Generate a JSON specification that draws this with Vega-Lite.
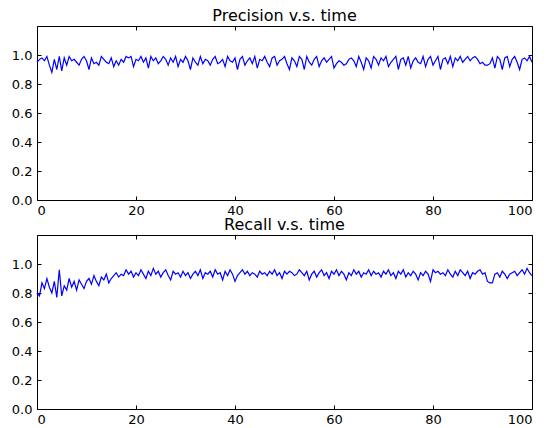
{
"$schema": "https://vega.github.io/schema/vega-lite/v6.json",
"background": "white",
"padding": {"left": 10, "top": 7, "right": 0, "bottom": 0},
"spacing": -2,
"config": {
  "view": {"stroke": "black", "strokeWidth": 1},
  "font": "DejaVu Sans",
  "axis": {"domain": false, "grid": false, "ticks": true, "tickColor": "black", "tickSize": -4, "labelFont": "DejaVu Sans", "labelFontSize": 13, "labelColor": "black", "title": null, "labelPadding": 8},
  "title": {"font": "DejaVu Sans", "fontSize": 16, "fontWeight": "normal", "color": "black", "offset": 2}
},
"datasets": {"d": [
{"t":0,"p":0.95,"r":0.80},{"t":0.5,"p":0.97,"r":0.78},{"t":1,"p":0.98,"r":0.87},{"t":1.5,"p":0.96,"r":0.83},{"t":2,"p":0.99,"r":0.90},{"t":2.5,"p":0.93,"r":0.84},{"t":3,"p":0.88,"r":0.80},{"t":3.5,"p":0.97,"r":0.88},{"t":4,"p":0.90,"r":0.77},{"t":4.5,"p":0.99,"r":0.96},
{"t":5,"p":0.89,"r":0.78},{"t":5.5,"p":0.98,"r":0.85},{"t":6,"p":0.93,"r":0.82},{"t":6.5,"p":0.99,"r":0.90},{"t":7,"p":0.96,"r":0.84},{"t":7.5,"p":0.97,"r":0.88},{"t":8,"p":0.95,"r":0.82},{"t":8.5,"p":0.93,"r":0.89},{"t":9,"p":0.97,"r":0.86},{"t":9.5,"p":0.99,"r":0.83},
{"t":10,"p":0.96,"r":0.88},{"t":10.5,"p":0.90,"r":0.90},{"t":11,"p":0.98,"r":0.86},{"t":11.5,"p":0.94,"r":0.92},{"t":12,"p":0.95,"r":0.88},{"t":12.5,"p":0.93,"r":0.85},{"t":13,"p":0.99,"r":0.91},{"t":13.5,"p":0.97,"r":0.89},{"t":14,"p":0.95,"r":0.93},{"t":14.5,"p":0.94,"r":0.87},
{"t":15,"p":0.98,"r":0.90},{"t":15.5,"p":0.92,"r":0.92},{"t":16,"p":0.96,"r":0.94},{"t":16.5,"p":0.93,"r":0.91},{"t":17,"p":0.97,"r":0.93},{"t":17.5,"p":0.95,"r":0.92},{"t":18,"p":0.99,"r":0.96},{"t":18.5,"p":0.98,"r":0.93},{"t":19,"p":0.99,"r":0.95},{"t":19.5,"p":0.92,"r":0.91},
{"t":20,"p":0.97,"r":0.94},{"t":20.5,"p":0.96,"r":0.92},{"t":21,"p":0.99,"r":0.96},{"t":21.5,"p":0.95,"r":0.93},{"t":22,"p":0.98,"r":0.90},{"t":22.5,"p":0.91,"r":0.95},{"t":23,"p":0.99,"r":0.92},{"t":23.5,"p":0.96,"r":0.97},{"t":24,"p":0.98,"r":0.93},{"t":24.5,"p":0.94,"r":0.95},
{"t":25,"p":0.96,"r":0.91},{"t":25.5,"p":0.99,"r":0.94},{"t":26,"p":0.97,"r":0.96},{"t":26.5,"p":0.93,"r":0.92},{"t":27,"p":0.98,"r":0.89},{"t":27.5,"p":0.95,"r":0.95},{"t":28,"p":0.99,"r":0.93},{"t":28.5,"p":0.92,"r":0.94},{"t":29,"p":0.97,"r":0.91},{"t":29.5,"p":0.95,"r":0.95},
{"t":30,"p":0.99,"r":0.92},{"t":30.5,"p":0.96,"r":0.94},{"t":31,"p":0.90,"r":0.90},{"t":31.5,"p":0.98,"r":0.93},{"t":32,"p":0.95,"r":0.95},{"t":32.5,"p":0.93,"r":0.92},{"t":33,"p":0.99,"r":0.96},{"t":33.5,"p":0.94,"r":0.90},{"t":34,"p":0.97,"r":0.94},{"t":34.5,"p":0.96,"r":0.93},
{"t":35,"p":0.93,"r":0.95},{"t":35.5,"p":0.97,"r":0.91},{"t":36,"p":0.99,"r":0.96},{"t":36.5,"p":0.94,"r":0.93},{"t":37,"p":0.95,"r":0.94},{"t":37.5,"p":0.97,"r":0.89},{"t":38,"p":0.92,"r":0.95},{"t":38.5,"p":0.99,"r":0.92},{"t":39,"p":0.96,"r":0.96},{"t":39.5,"p":0.95,"r":0.93},
{"t":40,"p":0.98,"r":0.88},{"t":40.5,"p":0.90,"r":0.92},{"t":41,"p":0.97,"r":0.94},{"t":41.5,"p":0.99,"r":0.96},{"t":42,"p":0.93,"r":0.93},{"t":42.5,"p":0.96,"r":0.95},{"t":43,"p":0.98,"r":0.92},{"t":43.5,"p":0.94,"r":0.94},{"t":44,"p":0.99,"r":0.93},{"t":44.5,"p":0.91,"r":0.91},
{"t":45,"p":0.97,"r":0.95},{"t":45.5,"p":0.96,"r":0.93},{"t":46,"p":0.99,"r":0.94},{"t":46.5,"p":0.95,"r":0.92},{"t":47,"p":0.92,"r":0.95},{"t":47.5,"p":0.98,"r":0.93},{"t":48,"p":0.99,"r":0.96},{"t":48.5,"p":0.93,"r":0.92},{"t":49,"p":0.96,"r":0.94},{"t":49.5,"p":0.97,"r":0.90},
{"t":50,"p":0.99,"r":0.95},{"t":50.5,"p":0.94,"r":0.93},{"t":51,"p":0.90,"r":0.95},{"t":51.5,"p":0.98,"r":0.94},{"t":52,"p":0.96,"r":0.92},{"t":52.5,"p":0.92,"r":0.93},{"t":53,"p":0.99,"r":0.96},{"t":53.5,"p":0.97,"r":0.94},{"t":54,"p":0.90,"r":0.92},{"t":54.5,"p":0.99,"r":0.95},
{"t":55,"p":0.95,"r":0.89},{"t":55.5,"p":0.93,"r":0.93},{"t":56,"p":0.97,"r":0.95},{"t":56.5,"p":0.99,"r":0.91},{"t":57,"p":0.92,"r":0.94},{"t":57.5,"p":0.96,"r":0.96},{"t":58,"p":0.98,"r":0.92},{"t":58.5,"p":0.95,"r":0.94},{"t":59,"p":0.97,"r":0.90},{"t":59.5,"p":0.99,"r":0.95},
{"t":60,"p":0.91,"r":0.93},{"t":60.5,"p":0.94,"r":0.96},{"t":61,"p":0.96,"r":0.92},{"t":61.5,"p":0.95,"r":0.95},{"t":62,"p":0.93,"r":0.93},{"t":62.5,"p":0.94,"r":0.89},{"t":63,"p":0.97,"r":0.94},{"t":63.5,"p":0.98,"r":0.92},{"t":64,"p":0.96,"r":0.96},{"t":64.5,"p":0.92,"r":0.93},
{"t":65,"p":0.99,"r":0.95},{"t":65.5,"p":0.95,"r":0.91},{"t":66,"p":0.90,"r":0.94},{"t":66.5,"p":0.98,"r":0.93},{"t":67,"p":0.96,"r":0.96},{"t":67.5,"p":0.91,"r":0.92},{"t":68,"p":0.99,"r":0.95},{"t":68.5,"p":0.97,"r":0.93},{"t":69,"p":0.93,"r":0.94},{"t":69.5,"p":0.98,"r":0.91},
{"t":70,"p":0.96,"r":0.95},{"t":70.5,"p":0.99,"r":0.93},{"t":71,"p":0.92,"r":0.96},{"t":71.5,"p":0.95,"r":0.92},{"t":72,"p":0.97,"r":0.94},{"t":72.5,"p":0.99,"r":0.90},{"t":73,"p":0.90,"r":0.95},{"t":73.5,"p":0.97,"r":0.93},{"t":74,"p":0.98,"r":0.96},{"t":74.5,"p":0.93,"r":0.91},
{"t":75,"p":0.99,"r":0.94},{"t":75.5,"p":0.91,"r":0.92},{"t":76,"p":0.96,"r":0.95},{"t":76.5,"p":0.98,"r":0.93},{"t":77,"p":0.95,"r":0.89},{"t":77.5,"p":0.94,"r":0.94},{"t":78,"p":0.99,"r":0.92},{"t":78.5,"p":0.92,"r":0.95},{"t":79,"p":0.97,"r":0.93},{"t":79.5,"p":0.99,"r":0.88},
{"t":80,"p":0.93,"r":0.96},{"t":80.5,"p":0.96,"r":0.94},{"t":81,"p":0.99,"r":0.95},{"t":81.5,"p":0.90,"r":0.93},{"t":82,"p":0.97,"r":0.94},{"t":82.5,"p":0.98,"r":0.92},{"t":83,"p":0.94,"r":0.96},{"t":83.5,"p":0.99,"r":0.93},{"t":84,"p":0.92,"r":0.91},{"t":84.5,"p":0.98,"r":0.95},
{"t":85,"p":0.96,"r":0.92},{"t":85.5,"p":0.99,"r":0.96},{"t":86,"p":0.95,"r":0.94},{"t":86.5,"p":0.97,"r":0.92},{"t":87,"p":0.99,"r":0.95},{"t":87.5,"p":0.96,"r":0.90},{"t":88,"p":0.98,"r":0.94},{"t":88.5,"p":0.99,"r":0.93},{"t":89,"p":0.97,"r":0.95},{"t":89.5,"p":0.94,"r":0.96},
{"t":90,"p":0.95,"r":0.93},{"t":90.5,"p":0.93,"r":0.94},{"t":91,"p":0.93,"r":0.88},{"t":91.5,"p":0.94,"r":0.87},{"t":92,"p":0.98,"r":0.87},{"t":92.5,"p":0.91,"r":0.93},{"t":93,"p":0.99,"r":0.94},{"t":93.5,"p":0.97,"r":0.91},{"t":94,"p":0.90,"r":0.95},{"t":94.5,"p":0.98,"r":0.93},
{"t":95,"p":0.99,"r":0.90},{"t":95.5,"p":0.92,"r":0.93},{"t":96,"p":0.97,"r":0.94},{"t":96.5,"p":0.99,"r":0.95},{"t":97,"p":0.95,"r":0.92},{"t":97.5,"p":0.90,"r":0.94},{"t":98,"p":0.97,"r":0.96},{"t":98.5,"p":0.98,"r":0.93},{"t":99,"p":0.96,"r":0.97},{"t":99.5,"p":0.99,"r":0.94},
{"t":100,"p":0.95,"r":0.92}
]},
"vconcat": [
  {
    "title": "Precision v.s. time",
    "width": 495, "height": 174,
    "data": {"name": "d"},
    "layer": [
      {"mark": {"type": "line", "color": "#0000ff", "strokeWidth": 1.2},
       "encoding": {
         "x": {"field": "t", "type": "quantitative", "scale": {"domain": [0, 100], "nice": false}, "axis": {"orient": "bottom", "values": [0, 20, 40, 60, 80, 100]}},
         "y": {"field": "p", "type": "quantitative", "scale": {"domain": [0, 1.2], "nice": false, "zero": false}, "axis": {"orient": "left", "values": [0, 0.2, 0.4, 0.6, 0.8, 1.0], "format": ".1f", "labelPadding": 9}}
       }},
      {"mark": {"type": "line", "opacity": 0},
       "encoding": {
         "x": {"field": "t", "type": "quantitative", "axis": {"orient": "top", "values": [0, 20, 40, 60, 80, 100], "labels": false}},
         "y": {"field": "p", "type": "quantitative", "axis": {"orient": "right", "values": [0, 0.2, 0.4, 0.6, 0.8, 1.0], "labels": false}}
       }}
    ],
    "resolve": {"axis": {"x": "independent", "y": "independent"}}
  },
  {
    "title": "Recall v.s. time",
    "width": 495, "height": 174,
    "data": {"name": "d"},
    "layer": [
      {"mark": {"type": "line", "color": "#0000ff", "strokeWidth": 1.2},
       "encoding": {
         "x": {"field": "t", "type": "quantitative", "scale": {"domain": [0, 100], "nice": false}, "axis": {"orient": "bottom", "values": [0, 20, 40, 60, 80, 100]}},
         "y": {"field": "r", "type": "quantitative", "scale": {"domain": [0, 1.2], "nice": false, "zero": false}, "axis": {"orient": "left", "values": [0, 0.2, 0.4, 0.6, 0.8, 1.0], "format": ".1f", "labelPadding": 9}}
       }},
      {"mark": {"type": "line", "opacity": 0},
       "encoding": {
         "x": {"field": "t", "type": "quantitative", "axis": {"orient": "top", "values": [0, 20, 40, 60, 80, 100], "labels": false}},
         "y": {"field": "r", "type": "quantitative", "axis": {"orient": "right", "values": [0, 0.2, 0.4, 0.6, 0.8, 1.0], "labels": false}}
       }}
    ],
    "resolve": {"axis": {"x": "independent", "y": "independent"}}
  }
]
}
